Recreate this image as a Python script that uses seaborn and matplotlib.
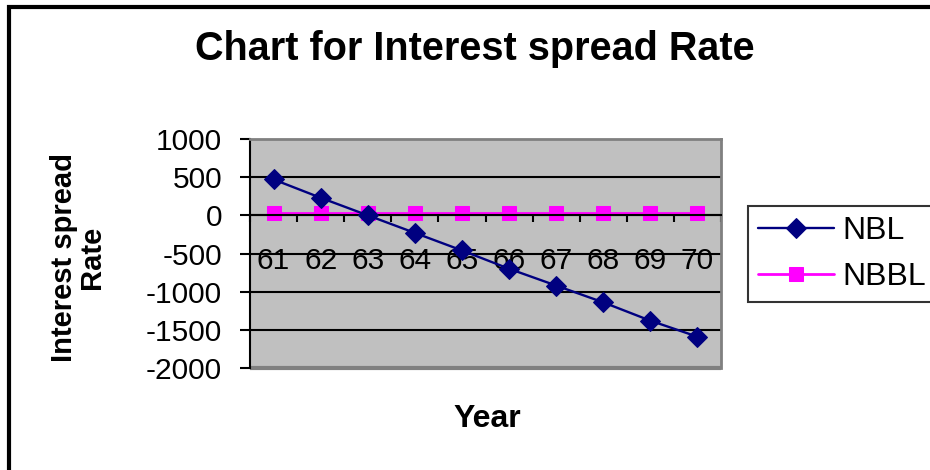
import pandas as pd
import numpy as np
import seaborn as sns
import matplotlib.pyplot as plt
from matplotlib.patches import Rectangle
from matplotlib.ticker import MultipleLocator, FixedLocator

years = [61, 62, 63, 64, 65, 66, 67, 68, 69, 70]
nbl = [470, 230, 0, -230, -460, -700, -920, -1140, -1380, -1590]
nbbl = [35, 35, 35, 35, 35, 35, 35, 35, 35, 35]

df = pd.DataFrame({"Year": years, "NBL": nbl, "NBBL": nbbl})

sns.set_style("white")
plt.rcParams["font.family"] = ["Liberation Sans", "DejaVu Sans"]
plt.rcParams["axes.unicode_minus"] = False
plt.rcParams["text.color"] = "black"
plt.rcParams["xtick.color"] = "black"
plt.rcParams["ytick.color"] = "black"

fig = plt.figure(figsize=(9.3, 4.7), dpi=100)
ax = fig.add_axes([250 / 930, 1 - 368 / 470, 471 / 930, 229 / 470])
ax.set_facecolor("#c0c0c0")

# gridlines first so they sit under the lines
for v in range(-1500, 1000, 500):
    ax.axhline(v, color="black", lw=1.5, zorder=1)

sns.lineplot(data=df, x="Year", y="NBL", ax=ax, color="#000080", marker="D",
             markersize=10, markeredgecolor="#000080", lw=1.7, label="NBL", zorder=3)
sns.lineplot(data=df, x="Year", y="NBBL", ax=ax, color="#ff00ff", marker="s",
             markersize=10, markeredgecolor="#ff00ff", lw=2, label="NBBL", zorder=2)

ax.set_xlim(60.5, 70.5)
ax.set_ylim(-2000, 1000)
ax.yaxis.set_major_locator(MultipleLocator(500))
ax.tick_params(axis="y", direction="out", length=7, width=1.5, pad=13, labelsize=21.5,
               left=True, labelcolor="black")

# category axis crossing at zero, ticks between categories
ax.spines["bottom"].set_position(("data", 0))
ax.spines["bottom"].set_color("black")
ax.spines["bottom"].set_linewidth(1.5)
ax.xaxis.set_major_locator(FixedLocator(np.arange(60.5, 71, 1)))
ax.xaxis.set_minor_locator(FixedLocator(years))
ax.xaxis.set_major_formatter(plt.NullFormatter())
ax.xaxis.set_minor_formatter(plt.FixedFormatter([str(y) for y in years]))
ax.tick_params(axis="x", which="major", direction="out", length=5, width=1.5, bottom=True)
ax.tick_params(axis="x", which="minor", length=0, pad=23, labelsize=21.5, bottom=True,
               labelcolor="black")

ax.spines["left"].set_color("black")
ax.spines["left"].set_linewidth(1.5)
for s in ["top", "right"]:
    ax.spines[s].set_color("#808080")
    ax.spines[s].set_linewidth(2)
ax.add_patch(Rectangle((0, 0), 1, 0, transform=ax.transAxes, fill=False,
                       edgecolor="#808080", lw=3, clip_on=False))

ax.set_xlabel("")
ax.set_ylabel("")
ax.get_legend().remove()

fig.text(475 / 930, 1 - 49 / 470, "Chart for Interest spread Rate", ha="center", va="center",
         fontsize=28.5, fontweight="bold")
fig.text(78 / 930, 1 - 257 / 470, "Interest spread\nRate", ha="center", va="center",
         rotation=90, fontsize=21, fontweight="bold", multialignment="center", linespacing=1.0)
fig.text(487 / 930, 1 - 419 / 470, "Year", ha="center", va="center", fontsize=23, fontweight="bold")

handles, labels = ax.get_legend_handles_labels()
leg = fig.legend(handles, labels, loc="center left", bbox_to_anchor=(748 / 930, 1 - 254 / 470),
                 fontsize=23, frameon=True, fancybox=False, handlelength=2.4,
                 handletextpad=0.25, borderpad=0.3, labelspacing=0.5, borderaxespad=0)
leg.get_frame().set_edgecolor("black")
leg.get_frame().set_linewidth(1.5)

fig.patches.append(Rectangle((9 / 930, -0.05), 1.0, 1 - 7 / 470 + 0.05, transform=fig.transFigure,
                             fill=False, edgecolor="black", lw=3))

fig.savefig("out.png", dpi=100)
